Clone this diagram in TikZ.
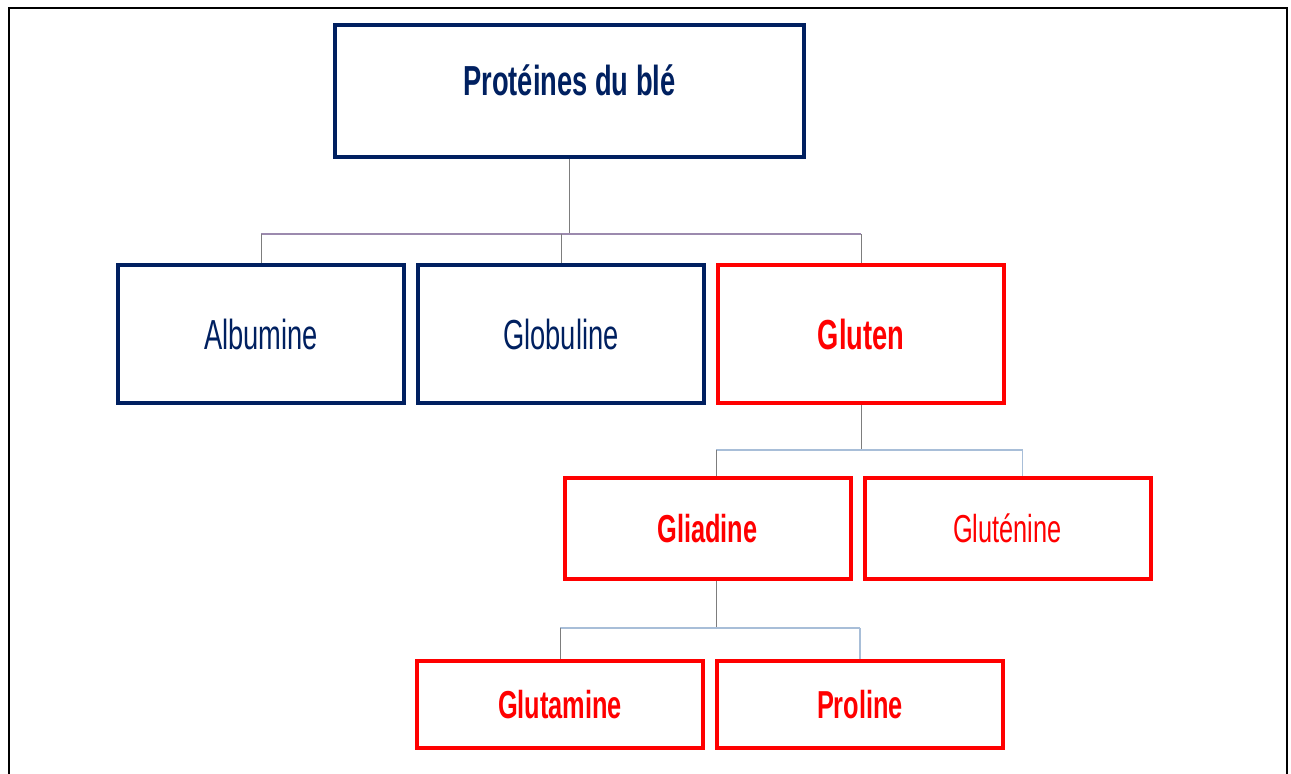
\documentclass[tikz,border=0pt]{standalone}
\usepackage{fontspec}
\setmainfont{Liberation Sans}[FakeStretch=0.65]
\usetikzlibrary{positioning}
\definecolor{navyblue}{RGB}{0,32,96}
\definecolor{alertred}{RGB}{255,0,0}
\definecolor{linegray}{RGB}{125,125,125}
\definecolor{barmauve}{RGB}{156,138,174}
\definecolor{barblue}{RGB}{168,190,216}

\begin{document}
\begin{tikzpicture}[x=0.5pt,y=0.5pt,
      node distance=5pt,
      box/.style={rectangle,draw=navyblue,line width=2pt,minimum width=143pt,minimum height=69pt,
                  align=center,text=navyblue,font=\fontsize{21}{24}\selectfont},
      redbox/.style={box,draw=alertred,text=alertred},
      lowbox/.style={redbox,font=\fontsize{19.5}{22}\selectfont},
      stem/.style={draw=linegray,line width=0.5pt},
      bluestem/.style={draw=barblue,line width=0.8pt},
      bar/.style={draw=barmauve,line width=1pt},
      bluebar/.style={draw=barblue,line width=1pt}]
    \useasboundingbox (0,0) rectangle (1291,-774);
    \draw[line width=1pt] (9,-774) |- (1287,-8) -- (1287,-774);
    \node[box,minimum width=234.5pt,minimum height=66pt,text depth=11pt] (prot) at (569.5,-91) {\textbf{Protéines du blé}};
    \node[box,below=52pt of prot,xshift=-4.25pt] (glob) {Globuline};
    \node[box,left=of glob] (alb) {Albumine};
    \node[redbox,right=of glob] (glut) {\textbf{Gluten}};
    \node[lowbox,minimum height=50.5pt,below=35.5pt of glut,xshift=-76.75pt] (glia) {\textbf{Gliadine}};
    \node[lowbox,minimum height=50.5pt,right=of glia] (glte) {Gluténine};
    \node[lowbox,minimum height=43.5pt,below=39pt of glia,xshift=-73.75pt] (glum) {\textbf{Glutamine}};
    \node[lowbox,minimum height=43.5pt,right=of glum] (pro) {\textbf{Proline}};
    % first level
    \draw[stem] (prot.south) -- ++(0,-75) coordinate (j1);
    \draw[bar] (alb.north |- j1) -- (glut.north |- j1);
    \foreach \n in {alb,glob,glut}
      \draw[stem] (\n.north |- j1) -- (\n.north);
    % under gluten
    \draw[stem] (glut.south) -- ++(0,-45) coordinate (j2);
    \draw[bluebar] ([xshift=4.25pt]glia.north |- j2) -- ([xshift=7.5pt]glte.north |- j2);
    \draw[stem] ([xshift=4.25pt]glia.north |- j2) -- ([xshift=4.25pt]glia.north);
    \draw[bluestem] ([xshift=7.5pt]glte.north |- j2) -- ([xshift=7.5pt]glte.north);
    % under gliadine
    \draw[stem] ([xshift=4.25pt]glia.south) -- ++(0,-47) coordinate (j3);
    \draw[bluebar] (glum.north |- j3) -- (pro.north |- j3);
    \draw[stem] (glum.north |- j3) -- (glum.north);
    \draw[bluestem] (pro.north |- j3) -- (pro.north);
  \end{tikzpicture}
\end{document}
